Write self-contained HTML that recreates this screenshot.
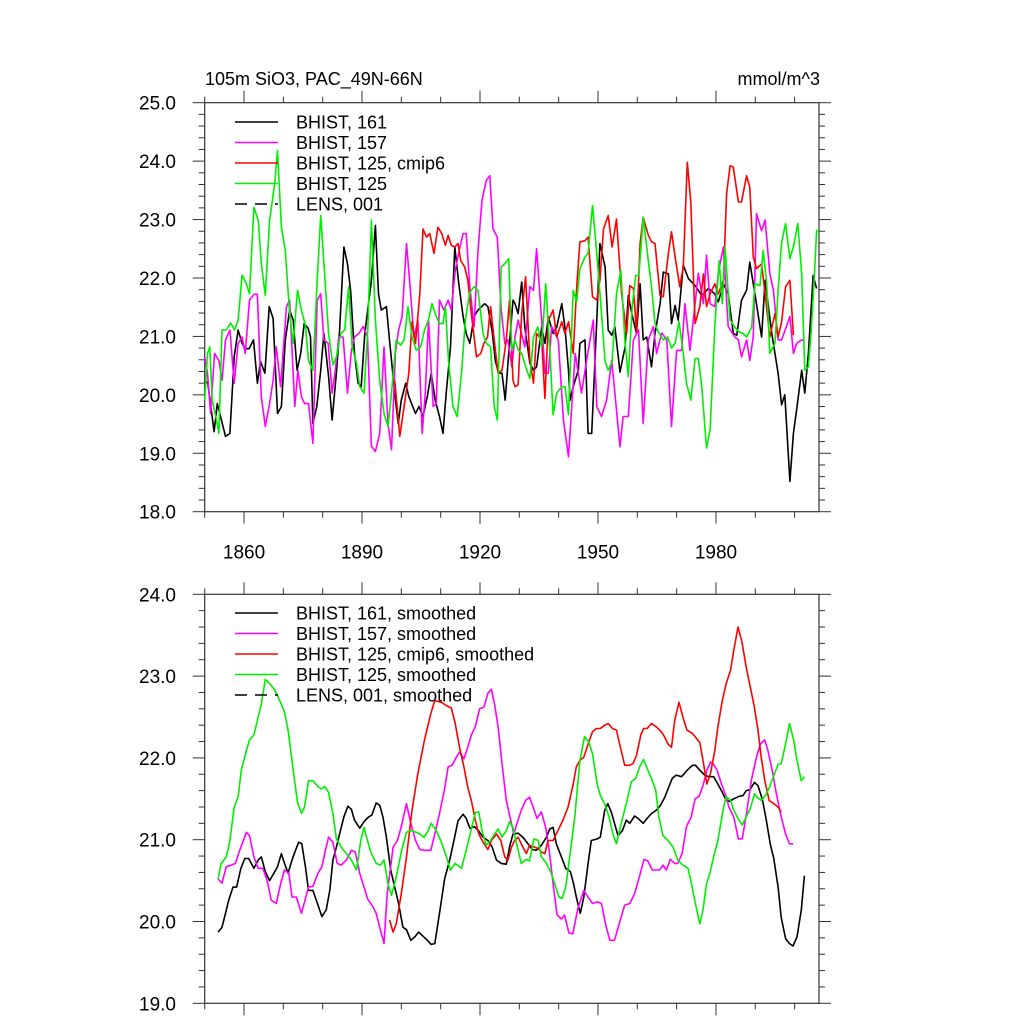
<!DOCTYPE html>
<html><head><meta charset="utf-8"><style>
html,body{margin:0;padding:0;background:#fff;}
svg{display:block;font-family:"Liberation Sans",sans-serif;}
</style></head><body>
<svg id="chart" width="1024" height="1024" viewBox="0 0 1024 1024" xmlns="http://www.w3.org/2000/svg">
<text x="205" y="85" font-size="18">105m SiO3, PAC_49N-66N</text>
<text x="820" y="85" font-size="18" text-anchor="end">mmol/m^3</text>
<g id="top"></g>
<g id="bot"></g>
</svg>
<script>
// ---------- data: top panel (annual) ----------
const blackTopYears=[1850.0,1850.8,1852.4,1853.2,1855.3,1856.4,1857.5,1858.5,1859.5,1860.3,1861.3,1862.4,1863.4,1864.2,1865.3,1866.4,1867.4,1868.5,1869.5,1870.5,1871.6,1872.5,1873.5,1874.4,1875.3,1876.3,1876.9,1877.5,1878.5,1879.5,1880.3,1881.5,1882.4,1883.5,1884.3,1885.4,1886.3,1887.1,1888.1,1889.0,1889.8,1890.7,1892.4,1893.4,1894.2,1894.9,1896.2,1897.0,1898.3,1899.2,1900.0,1901.1,1901.9,1903.6,1904.5,1905.5,1906.6,1907.6,1908.6,1909.7,1910.6,1911.4,1912.5,1913.6,1914.6,1915.7,1916.5,1917.4,1918.5,1919.5,1921.2,1922.0,1923.1,1923.9,1924.7,1925.6,1926.4,1927.3,1928.4,1928.9,1929.7,1930.6,1931.4,1932.7,1933.6,1934.4,1935.7,1936.5,1937.4,1938.6,1939.5,1940.8,1941.6,1942.5,1942.9,1943.7,1945.0,1945.4,1946.7,1947.5,1948.4,1949.7,1950.5,1951.8,1952.6,1953.5,1954.3,1955.6,1956.9,1957.7,1958.6,1959.8,1960.7,1961.5,1962.4,1963.6,1964.5,1965.8,1966.6,1967.9,1968.7,1969.6,1970.4,1971.7,1973.0,1974.7,1976.4,1978.1,1979.7,1980.6,1981.9,1983.1,1984.4,1985.3,1986.5,1987.8,1988.6,1989.9,1991.6,1992.5,1994.2,1995.8,1996.7,1997.5,1998.8,1999.7,2000.5,2001.8,2002.6,2003.5,2004.7,2005.6];
const blackTopValues=[20.25,20.20,19.37,19.85,19.29,19.34,20.65,21.11,20.88,20.79,20.79,20.94,20.20,20.57,20.37,21.51,21.31,19.68,19.80,20.94,21.45,21.28,20.42,20.71,21.22,21.14,20.99,19.51,19.80,20.42,21.05,20.31,19.57,20.37,21.11,22.53,22.24,21.79,20.71,20.20,20.14,21.05,21.96,22.90,21.73,21.45,21.51,20.94,20.03,19.51,19.91,20.20,19.97,19.68,19.80,19.63,19.97,20.37,19.91,19.63,19.34,20.03,20.82,22.53,21.90,21.34,21.05,20.88,21.34,21.45,21.56,21.51,21.08,20.59,20.37,20.37,19.91,20.71,21.62,21.56,21.39,21.93,21.16,20.54,20.42,20.48,21.16,20.88,21.33,21.05,21.16,21.56,21.16,20.42,19.91,20.14,20.42,20.88,20.94,19.34,19.34,21.28,22.59,22.19,21.11,21.02,21.16,20.39,20.82,21.70,21.39,21.05,21.90,20.94,20.99,20.48,21.05,21.56,22.10,22.07,21.22,21.53,21.28,22.22,21.99,21.87,21.70,21.82,21.73,21.59,21.90,21.73,21.05,21.02,21.62,21.79,22.27,21.73,20.99,21.96,21.05,20.37,19.83,20.00,18.52,19.34,19.74,20.42,20.03,20.71,22.04,21.82];
const magTopYears=[1850.0,1850.7,1851.5,1852.5,1853.6,1854.4,1855.3,1856.4,1857.5,1858.5,1859.5,1860.3,1861.4,1862.5,1863.4,1864.4,1865.4,1866.5,1867.4,1868.2,1869.3,1870.8,1871.6,1872.9,1873.7,1874.6,1875.4,1876.4,1877.5,1878.6,1879.5,1880.3,1881.4,1882.4,1883.2,1884.1,1885.2,1886.3,1887.3,1888.1,1889.2,1890.3,1891.4,1892.4,1893.4,1894.5,1895.6,1896.6,1897.5,1898.5,1899.3,1900.2,1901.3,1902.1,1903.2,1904.2,1905.3,1906.1,1906.9,1908.1,1908.9,1909.7,1910.8,1911.9,1912.7,1913.7,1914.6,1915.7,1916.5,1917.4,1918.5,1919.5,1920.5,1921.6,1922.5,1923.3,1924.4,1925.4,1926.3,1927.1,1928.1,1928.9,1929.7,1931.4,1932.7,1933.6,1934.4,1935.7,1936.5,1937.4,1938.2,1939.9,1941.2,1942.5,1944.2,1945.8,1947.1,1948.8,1949.7,1950.9,1952.2,1953.5,1954.3,1955.6,1956.4,1957.7,1959.0,1960.3,1961.5,1962.8,1964.1,1964.9,1966.2,1967.5,1968.7,1970.0,1971.3,1972.1,1973.4,1974.7,1975.5,1976.8,1977.6,1978.5,1979.7,1980.6,1981.9,1983.1,1984.8,1985.7,1986.5,1987.8,1988.6,1989.5,1990.3,1991.6,1992.5,1993.7,1994.6,1995.8,1996.7,1997.9,1998.8,1999.7,2000.5,2001.8,2002.6];
const magTopValues=[20.65,20.37,19.68,20.71,20.59,20.25,20.94,21.11,20.20,20.88,20.99,20.71,21.62,21.72,21.72,19.97,19.46,19.85,20.25,20.82,20.14,21.51,21.62,19.80,20.42,19.97,19.85,19.85,19.17,21.62,21.73,20.94,20.88,20.03,20.42,20.99,20.99,20.03,20.76,20.99,21.05,21.17,20.99,19.12,19.03,19.34,20.82,19.51,19.06,20.71,21.11,21.34,22.59,21.96,20.99,21.28,19.34,20.03,21.28,19.80,19.85,21.62,21.45,21.62,21.45,22.13,22.44,22.76,22.76,21.85,21.17,22.47,23.33,23.67,23.75,22.84,22.70,21.45,20.88,20.94,20.48,20.99,21.28,20.82,21.85,21.79,22.50,21.28,20.37,20.37,21.17,20.94,19.57,18.94,20.71,20.03,20.59,21.28,19.80,19.63,19.91,20.59,20.03,19.11,19.63,19.63,20.94,21.11,19.51,20.94,21.17,20.71,21.06,20.94,19.46,20.76,20.76,21.56,20.76,21.56,22.08,21.56,22.39,21.56,21.51,22.08,22.53,21.17,20.99,20.94,20.65,20.94,20.59,21.00,23.10,22.81,22.99,22.08,21.79,20.94,20.94,21.17,21.34,20.71,20.88,20.94,20.94];
const redTopYears=[1898.3,1899.6,1900.7,1901.9,1902.7,1903.6,1904.7,1905.5,1906.4,1907.2,1908.3,1909.3,1910.3,1911.2,1911.9,1912.7,1913.6,1914.4,1915.1,1916.1,1916.9,1917.8,1919.1,1920.2,1921.0,1921.9,1922.7,1923.6,1924.6,1925.6,1926.7,1927.5,1928.4,1928.9,1929.7,1930.6,1931.6,1932.7,1933.6,1934.4,1935.7,1936.5,1937.4,1938.6,1939.5,1940.8,1941.6,1942.5,1943.7,1944.6,1945.4,1946.7,1947.5,1948.6,1949.7,1950.5,1951.4,1952.6,1953.6,1954.7,1956.0,1957.3,1958.1,1959.0,1959.8,1960.7,1961.5,1962.8,1963.6,1964.5,1965.8,1966.6,1967.9,1968.7,1969.6,1970.8,1971.7,1972.7,1973.6,1974.7,1975.9,1976.8,1977.6,1978.5,1979.7,1980.6,1981.9,1982.7,1983.6,1984.4,1985.7,1986.5,1987.8,1988.6,1989.5,1990.3,1991.6,1992.5,1993.7,1995.0,1995.8,1996.7,1997.7,1998.8,1999.7];
const redTopValues=[20.25,19.29,19.80,20.37,21.25,20.88,21.73,22.84,22.70,22.76,22.42,22.87,22.76,22.56,22.73,22.56,22.53,22.59,22.30,22.19,21.96,21.39,20.65,20.71,20.88,20.99,21.51,20.94,20.37,20.42,20.94,21.62,20.25,20.14,20.17,21.39,22.02,20.59,20.20,21.05,20.94,19.94,21.28,21.45,20.99,21.25,21.05,21.25,20.71,21.85,22.62,22.64,22.70,21.68,21.62,21.96,22.84,23.07,22.53,23.01,21.73,21.05,21.87,21.82,21.08,22.59,23.04,22.73,22.62,22.59,21.70,21.68,22.42,22.79,22.36,21.85,22.19,23.98,23.30,21.22,21.51,22.07,21.51,21.73,21.90,21.73,21.96,23.44,23.92,23.90,23.30,23.30,23.75,23.55,22.36,22.16,22.24,21.73,20.99,21.39,20.99,21.25,21.85,21.96,21.02];
const greenTopYears=[1850.0,1850.7,1851.3,1851.9,1853.0,1853.6,1854.4,1855.5,1856.6,1857.6,1858.5,1859.5,1860.6,1861.4,1862.5,1863.6,1864.4,1865.4,1866.5,1867.8,1868.5,1869.5,1870.5,1871.6,1872.5,1873.6,1874.6,1875.6,1876.4,1877.5,1878.6,1879.5,1880.5,1881.5,1882.6,1883.5,1884.6,1885.6,1886.6,1887.5,1888.6,1889.4,1890.5,1891.5,1892.4,1893.4,1894.5,1895.6,1896.6,1897.5,1898.7,1899.8,1900.7,1901.7,1902.7,1903.8,1904.9,1905.9,1906.9,1907.8,1908.9,1909.7,1910.6,1911.2,1912.0,1913.1,1914.2,1915.3,1916.3,1917.4,1918.5,1919.5,1920.8,1921.6,1922.7,1923.6,1924.4,1925.4,1926.4,1927.3,1928.1,1928.9,1929.7,1930.6,1931.9,1932.7,1933.6,1934.7,1935.7,1936.7,1937.8,1938.6,1939.5,1940.8,1941.6,1942.5,1943.7,1944.6,1945.4,1946.7,1947.5,1948.6,1949.7,1950.9,1951.8,1952.6,1953.6,1954.7,1955.8,1956.9,1957.7,1958.7,1959.6,1960.4,1961.5,1962.8,1963.6,1964.5,1965.3,1966.6,1967.7,1968.7,1969.6,1970.6,1971.7,1972.5,1973.6,1974.7,1975.5,1976.4,1977.6,1978.5,1979.7,1980.8,1981.6,1982.3,1983.6,1984.8,1985.8,1986.9,1987.8,1989.1,1989.9,1991.2,1992.0,1992.9,1993.7,1995.0,1995.8,1996.7,1997.7,1998.8,1999.7,2000.8,2001.8,2002.6,2003.5,2004.3,2005.0,2005.6,2006.2];
const greenTopValues=[19.91,20.71,20.82,19.91,19.57,19.34,21.11,21.11,21.23,21.11,21.28,22.05,21.90,21.73,23.21,22.99,22.25,21.70,22.99,23.61,24.18,22.87,22.47,21.39,20.88,21.79,21.45,21.19,20.59,20.42,21.96,23.07,22.07,21.05,20.51,20.65,21.05,21.11,21.85,20.82,20.54,20.14,20.03,21.17,22.99,21.28,20.25,19.68,19.46,20.03,20.94,20.85,20.94,21.51,20.99,20.76,20.82,21.11,21.28,21.56,21.34,21.22,21.22,21.51,20.59,19.80,19.63,20.37,21.28,21.76,21.85,21.79,21.05,20.88,20.82,19.80,19.57,22.19,22.25,22.33,20.76,20.94,20.77,20.71,20.42,20.28,20.99,21.16,20.82,21.90,20.71,19.66,20.03,20.14,20.14,19.66,21.79,21.59,22.16,22.36,22.42,23.24,22.42,21.39,20.57,20.42,20.57,21.73,22.13,20.88,20.31,21.51,22.04,22.04,23.04,22.30,21.85,21.22,21.08,20.94,20.99,20.80,20.88,21.25,20.71,20.20,19.91,20.62,20.62,20.14,19.09,19.40,21.16,22.30,21.56,22.53,21.28,21.16,21.08,21.05,20.99,21.16,21.90,21.87,22.47,21.90,20.71,20.88,21.79,22.61,22.93,22.33,22.53,22.93,22.07,20.42,20.48,21.16,22.02,22.81,22.81];
// ---------- data: bottom panel (smoothed) ----------
const blackBotYears=[1853.4,1854.4,1855.3,1856.1,1857.2,1858.1,1859.2,1860.2,1861.2,1862.5,1863.6,1864.4,1865.4,1866.5,1867.6,1868.5,1869.5,1870.3,1871.2,1872.2,1873.1,1873.9,1874.7,1875.6,1876.4,1877.5,1878.8,1879.8,1880.9,1881.8,1882.6,1883.5,1884.3,1885.4,1886.4,1887.3,1888.1,1889.4,1890.5,1891.7,1892.5,1893.6,1894.5,1895.3,1896.2,1897.3,1898.3,1899.3,1900.4,1901.3,1902.4,1903.4,1904.4,1905.5,1906.6,1907.6,1908.5,1909.7,1911.0,1912.3,1913.6,1914.4,1915.7,1916.5,1917.4,1918.5,1919.5,1920.8,1922.0,1923.1,1924.2,1925.4,1926.7,1927.5,1928.4,1929.7,1930.9,1932.2,1933.3,1934.3,1935.6,1936.9,1937.7,1938.6,1939.4,1940.7,1941.8,1943.0,1943.8,1944.5,1945.5,1946.4,1947.5,1948.3,1949.8,1950.6,1951.7,1952.5,1953.4,1954.2,1955.1,1956.2,1957.2,1958.1,1959.3,1960.2,1961.5,1962.5,1963.6,1964.8,1965.9,1967.0,1967.8,1968.9,1969.9,1971.2,1972.0,1972.9,1974.0,1974.8,1975.9,1977.1,1978.2,1979.4,1980.5,1981.6,1982.6,1983.5,1984.5,1985.9,1986.9,1987.7,1988.6,1989.8,1990.7,1991.8,1992.8,1993.8,1994.7,1995.8,1996.6,1997.7,1998.7,1999.6,2000.6,2001.7,2002.5];
const blackBotValues=[19.87,19.93,20.10,20.26,20.42,20.42,20.65,20.77,20.77,20.65,20.75,20.79,20.61,20.50,20.59,20.67,20.83,20.71,20.59,20.75,20.87,20.97,20.95,20.67,20.38,20.38,20.20,20.06,20.14,20.38,20.75,20.91,21.07,21.28,21.41,21.37,21.24,21.14,21.22,21.28,21.30,21.45,21.42,21.28,21.03,20.63,20.42,20.22,19.93,19.90,19.77,19.81,19.87,19.82,19.77,19.72,19.73,20.10,20.52,20.75,21.04,21.23,21.31,21.26,21.14,21.16,21.12,21.03,20.99,20.91,20.75,20.71,20.70,20.91,21.07,21.08,21.03,20.95,20.88,20.87,20.93,21.03,21.13,21.15,20.95,20.79,20.65,20.61,20.46,20.30,20.10,20.30,20.71,20.99,21.01,21.03,21.36,21.44,21.34,21.20,21.05,21.11,21.24,21.20,21.29,21.26,21.20,21.26,21.32,21.36,21.42,21.52,21.62,21.75,21.79,21.77,21.81,21.86,21.91,21.91,21.85,21.79,21.77,21.77,21.68,21.58,21.48,21.47,21.50,21.53,21.54,21.60,21.61,21.70,21.66,21.49,21.24,20.95,20.77,20.42,20.05,19.79,19.73,19.70,19.81,20.14,20.56];
const magBotYears=[1853.4,1854.4,1855.5,1856.8,1857.8,1858.9,1859.7,1860.6,1861.4,1862.5,1863.6,1864.8,1865.9,1866.9,1868.2,1869.3,1870.3,1871.4,1872.2,1873.3,1874.6,1875.4,1876.4,1877.5,1878.8,1879.8,1880.7,1881.5,1882.6,1883.7,1884.7,1886.0,1887.3,1888.3,1889.4,1890.5,1891.5,1892.8,1893.6,1894.5,1895.6,1896.4,1897.9,1899.0,1900.0,1901.3,1902.4,1903.6,1904.7,1905.9,1907.5,1908.5,1909.7,1911.0,1911.9,1912.9,1914.0,1914.8,1915.9,1916.9,1917.8,1918.8,1919.9,1921.0,1922.0,1922.9,1923.7,1924.6,1925.6,1926.7,1927.8,1928.6,1929.4,1930.5,1931.6,1932.6,1933.5,1934.5,1935.6,1936.7,1937.6,1938.6,1939.6,1940.7,1941.5,1942.6,1943.6,1944.9,1946.4,1947.5,1948.6,1949.8,1950.9,1951.9,1953.0,1954.2,1955.5,1956.8,1958.1,1959.3,1960.6,1961.7,1962.7,1963.8,1964.8,1965.7,1966.5,1967.4,1968.4,1969.5,1970.3,1971.4,1972.5,1973.7,1974.7,1975.7,1976.7,1977.7,1978.6,1979.4,1980.3,1981.4,1982.5,1983.3,1984.5,1985.7,1986.7,1987.9,1989.0,1990.3,1991.3,1992.4,1993.2,1994.3,1995.3,1996.6,1997.7,1998.7,1999.6];
const magBotValues=[20.52,20.47,20.67,20.69,20.71,20.87,20.97,21.09,21.05,20.79,20.65,20.65,20.50,20.26,20.22,20.46,20.63,20.59,20.30,20.30,20.10,20.24,20.42,20.43,20.59,20.67,20.87,21.03,20.97,20.71,20.69,20.75,20.87,20.85,20.59,20.42,20.27,20.18,20.10,19.93,19.73,20.34,20.91,20.99,21.16,21.44,21.20,20.99,20.88,20.87,20.87,21.07,21.32,21.62,21.89,21.91,22.01,22.07,21.99,22.13,22.28,22.38,22.60,22.62,22.79,22.84,22.66,22.38,21.93,21.48,21.24,21.07,21.20,21.36,21.48,21.52,21.40,21.26,21.34,21.15,20.87,20.46,20.08,20.03,20.08,19.86,19.85,20.16,20.38,20.30,20.22,20.24,20.22,19.97,19.77,19.77,19.99,20.20,20.22,20.34,20.56,20.76,20.74,20.63,20.63,20.63,20.69,20.63,20.76,20.71,20.71,20.83,21.16,21.28,21.50,21.53,21.66,21.85,21.95,21.92,21.85,21.68,21.54,21.40,21.28,21.01,21.01,21.36,21.73,22.01,22.17,22.22,22.09,21.85,21.58,21.28,21.07,20.95,20.95];
const redBotYears=[1897.0,1897.9,1898.7,1900.0,1901.3,1902.7,1904.2,1905.9,1907.5,1908.5,1910.2,1911.4,1912.7,1913.7,1914.8,1915.9,1916.9,1917.8,1918.8,1919.7,1920.8,1922.0,1922.9,1924.2,1925.3,1926.3,1927.1,1928.0,1928.8,1929.7,1930.9,1931.8,1932.6,1933.9,1934.8,1935.6,1936.5,1937.3,1938.6,1939.8,1941.1,1942.4,1943.7,1944.5,1945.4,1946.4,1947.5,1948.6,1949.6,1950.6,1951.7,1952.6,1953.7,1954.7,1955.5,1956.8,1958.1,1958.9,1959.8,1960.9,1961.6,1962.5,1963.6,1964.8,1966.1,1966.9,1967.8,1968.7,1969.5,1970.6,1971.6,1972.6,1974.0,1975.0,1975.9,1976.7,1977.7,1978.6,1979.7,1980.5,1981.6,1982.6,1983.7,1984.5,1985.6,1986.6,1987.7,1988.7,1989.7,1990.7,1991.5,1992.4,1993.5,1994.7,1995.8,1996.6];
const redBotValues=[20.02,19.87,19.97,20.34,20.79,21.36,21.81,22.22,22.54,22.70,22.68,22.64,22.61,22.42,22.13,21.89,21.64,21.48,21.24,21.07,20.97,20.88,20.99,21.07,20.99,20.79,20.75,20.91,20.99,21.03,20.91,20.83,20.93,20.91,20.89,20.85,20.83,20.99,20.99,21.11,21.24,21.40,21.68,21.89,21.97,22.01,22.17,22.32,22.36,22.36,22.40,22.42,22.36,22.34,22.17,21.91,21.91,21.93,22.03,22.28,22.36,22.36,22.42,22.38,22.32,22.26,22.17,22.13,22.46,22.68,22.50,22.34,22.30,22.24,22.19,21.97,21.68,21.81,22.09,22.38,22.70,22.91,23.07,23.31,23.60,23.42,23.11,22.87,22.64,22.34,22.01,21.73,21.48,21.44,21.40,21.34];
const greenBotYears=[1853.4,1854.2,1855.5,1856.4,1857.5,1858.5,1859.3,1860.6,1861.4,1862.5,1863.6,1864.4,1865.4,1866.5,1867.8,1869.1,1870.3,1871.2,1872.5,1873.6,1874.6,1875.4,1876.4,1877.5,1878.8,1879.7,1880.5,1881.5,1882.6,1883.5,1884.7,1886.0,1887.3,1888.6,1889.7,1890.5,1891.5,1892.4,1893.6,1894.7,1895.6,1896.6,1897.5,1898.7,1900.0,1901.3,1902.5,1903.8,1904.7,1905.8,1906.8,1907.6,1908.9,1910.0,1911.2,1912.5,1913.7,1915.3,1916.5,1917.8,1918.8,1919.7,1920.5,1921.6,1922.7,1923.7,1924.6,1925.6,1926.7,1927.5,1928.4,1929.3,1930.5,1931.8,1932.6,1933.7,1934.8,1935.6,1936.9,1938.1,1939.0,1940.1,1940.9,1941.8,1942.8,1944.1,1945.4,1946.6,1947.7,1948.6,1949.8,1950.6,1951.7,1952.8,1953.8,1954.7,1955.9,1957.2,1958.5,1959.6,1960.6,1961.6,1962.7,1963.6,1964.7,1965.5,1966.5,1967.8,1969.1,1970.3,1971.6,1972.9,1973.7,1974.6,1975.9,1976.7,1977.6,1978.4,1979.4,1980.5,1981.8,1982.6,1983.7,1984.5,1985.6,1986.7,1987.7,1988.7,1989.8,1990.7,1991.5,1992.6,1993.6,1994.9,1995.8,1996.6,1997.7,1998.7,1999.8,2000.6,2001.7,2002.5];
const greenBotValues=[20.52,20.71,20.79,20.99,21.40,21.52,21.85,22.09,22.22,22.28,22.50,22.66,22.96,22.91,22.83,22.70,22.56,22.34,21.85,21.46,21.32,21.40,21.72,21.72,21.65,21.62,21.65,21.58,21.32,21.01,20.91,20.83,20.75,20.63,20.99,21.15,20.97,20.83,20.71,20.69,20.75,20.46,20.32,20.54,20.85,21.09,21.11,21.09,21.07,21.03,21.11,21.20,21.11,20.99,20.83,20.63,20.71,20.65,20.87,21.13,21.33,21.34,21.11,20.93,20.99,21.07,21.13,21.03,21.11,21.22,21.15,20.95,20.71,20.76,20.74,21.01,20.99,20.79,20.71,20.59,20.46,20.30,20.28,20.42,20.79,21.28,21.97,22.26,22.19,22.05,21.68,21.54,21.44,21.28,21.07,20.95,21.20,21.44,21.71,21.75,21.89,21.98,21.85,21.75,21.60,21.28,21.05,20.99,20.91,20.75,20.69,20.65,20.48,20.26,19.97,20.14,20.46,20.58,20.79,20.99,21.36,21.53,21.48,21.36,21.26,21.18,21.28,21.38,21.56,21.51,21.48,21.54,21.64,21.81,21.92,21.93,22.17,22.42,22.21,21.97,21.72,21.77];
// ---------- tick labels ----------
const xTickYears=[1860,1890,1920,1950,1980];
const topYTicks=[18,19,20,21,22,23,24,25];
const botYTicks=[19,20,21,22,23,24];
const topLegend=["BHIST, 161","BHIST, 157","BHIST, 125, cmip6","BHIST, 125","LENS, 001"];
const botLegend=["BHIST, 161, smoothed","BHIST, 157, smoothed","BHIST, 125, cmip6, smoothed","BHIST, 125, smoothed","LENS, 001, smoothed"];

const NS="http://www.w3.org/2000/svg";
function mk(tag,attrs,parent){const e=document.createElementNS(NS,tag);for(const k in attrs)e.setAttribute(k,attrs[k]);parent.appendChild(e);return e;}
const X0=204.7,X1=819,Y_START=1850,Y_END=2006.2;
function xs(yr){return X0+(yr-Y_START)*(X1-X0)/(Y_END-Y_START);}
function panel(g,top,bottom,vmin,vmax,yticks,labelsX,legend,lgY,series){
  const ys=v=>bottom-(v-vmin)*(bottom-top)/(vmax-vmin);
  const ax="#333";
  // frame
  const fr=mk('rect',{x:X0,y:top,width:X1-X0,height:bottom-top,fill:'none',stroke:ax,'stroke-width':1.2},g);
  
  
  // y ticks
  for(let v=vmin;v<=vmax+1e-6;v+=0.2){
    const major=Math.abs(v-Math.round(v))<1e-6;const L=major?12:6;const y=ys(v);
    const t1=mk('line',{x1:X0-L,x2:X0,y1:y,y2:y,stroke:ax,'stroke-width':1},g);
    
    
    const t2=mk('line',{x1:X1,x2:X1+L,y1:y,y2:y,stroke:ax,'stroke-width':1},g);
    
    
  }
  yticks.forEach(v=>{
    const t=mk('text',{x:176,y:ys(v)+7,'font-size':19,'text-anchor':'end'},g);t.textContent=v.toFixed(1);
    
    
  });
  for(let yr=1850;yr<=2000;yr+=10){
    const major=xTickYears.includes(yr);const L=major?12:6;const x=xs(yr);
    const a=mk('line',{x1:x,x2:x,y1:bottom,y2:bottom+L,stroke:ax,'stroke-width':1},g);
    
    
    const b=mk('line',{x1:x,x2:x,y1:top-L,y2:top,stroke:ax,'stroke-width':1},g);
    
    
  }
  if(labelsX){xTickYears.forEach(yr=>{
    const t=mk('text',{x:xs(yr),y:bottom+47,'font-size':19,'text-anchor':'middle'},g);t.textContent=yr;
    
    
  });}
  series.forEach(s=>{
    const d=s.yrs.map((yr,i)=>(i?'L':'M')+xs(yr).toFixed(1)+' '+ys(s.vals[i]).toFixed(1)).join(' ');
    const p=mk('path',{d:d,fill:'none',stroke:s.c,'stroke-width':1.6,'stroke-linejoin':'round'},g);
    
    
  });
  const cols=['#000','#ff00ff','#ff0000','#00ee00','#000'];
  legend.forEach((lab,i)=>{
    const y=lgY+i*20.5;
    const l=mk('line',{x1:235,x2:278,y1:y,y2:y,stroke:cols[i],'stroke-width':1.5},g);
    if(i===4)l.setAttribute('stroke-dasharray','12 8');
    
    
    const t=mk('text',{x:296,y:y+6.5,'font-size':18},g);t.textContent=lab;
    
    
  });
}
panel(document.getElementById('top'),102.7,511.7,18,25,topYTicks,true,topLegend,122,[
 {yrs:blackTopYears,vals:blackTopValues,c:'#000',n:'line-bhist-161'},
 {yrs:magTopYears,vals:magTopValues,c:'#ff00ff',n:'line-bhist-157'},
 {yrs:redTopYears,vals:redTopValues,c:'#ff0000',n:'line-bhist-125-cmip6'},
 {yrs:greenTopYears,vals:greenTopValues,c:'#00ee00',n:'line-bhist-125'}]);
panel(document.getElementById('bot'),594.3,1003.3,19,24,botYTicks,false,botLegend,613,[
 {yrs:blackBotYears,vals:blackBotValues,c:'#000',n:'line-bhist-161-smoothed'},
 {yrs:magBotYears,vals:magBotValues,c:'#ff00ff',n:'line-bhist-157-smoothed'},
 {yrs:redBotYears,vals:redBotValues,c:'#ff0000',n:'line-bhist-125-cmip6-smoothed'},
 {yrs:greenBotYears,vals:greenBotValues,c:'#00ee00',n:'line-bhist-125-smoothed'}]);
</script>
</body></html>
